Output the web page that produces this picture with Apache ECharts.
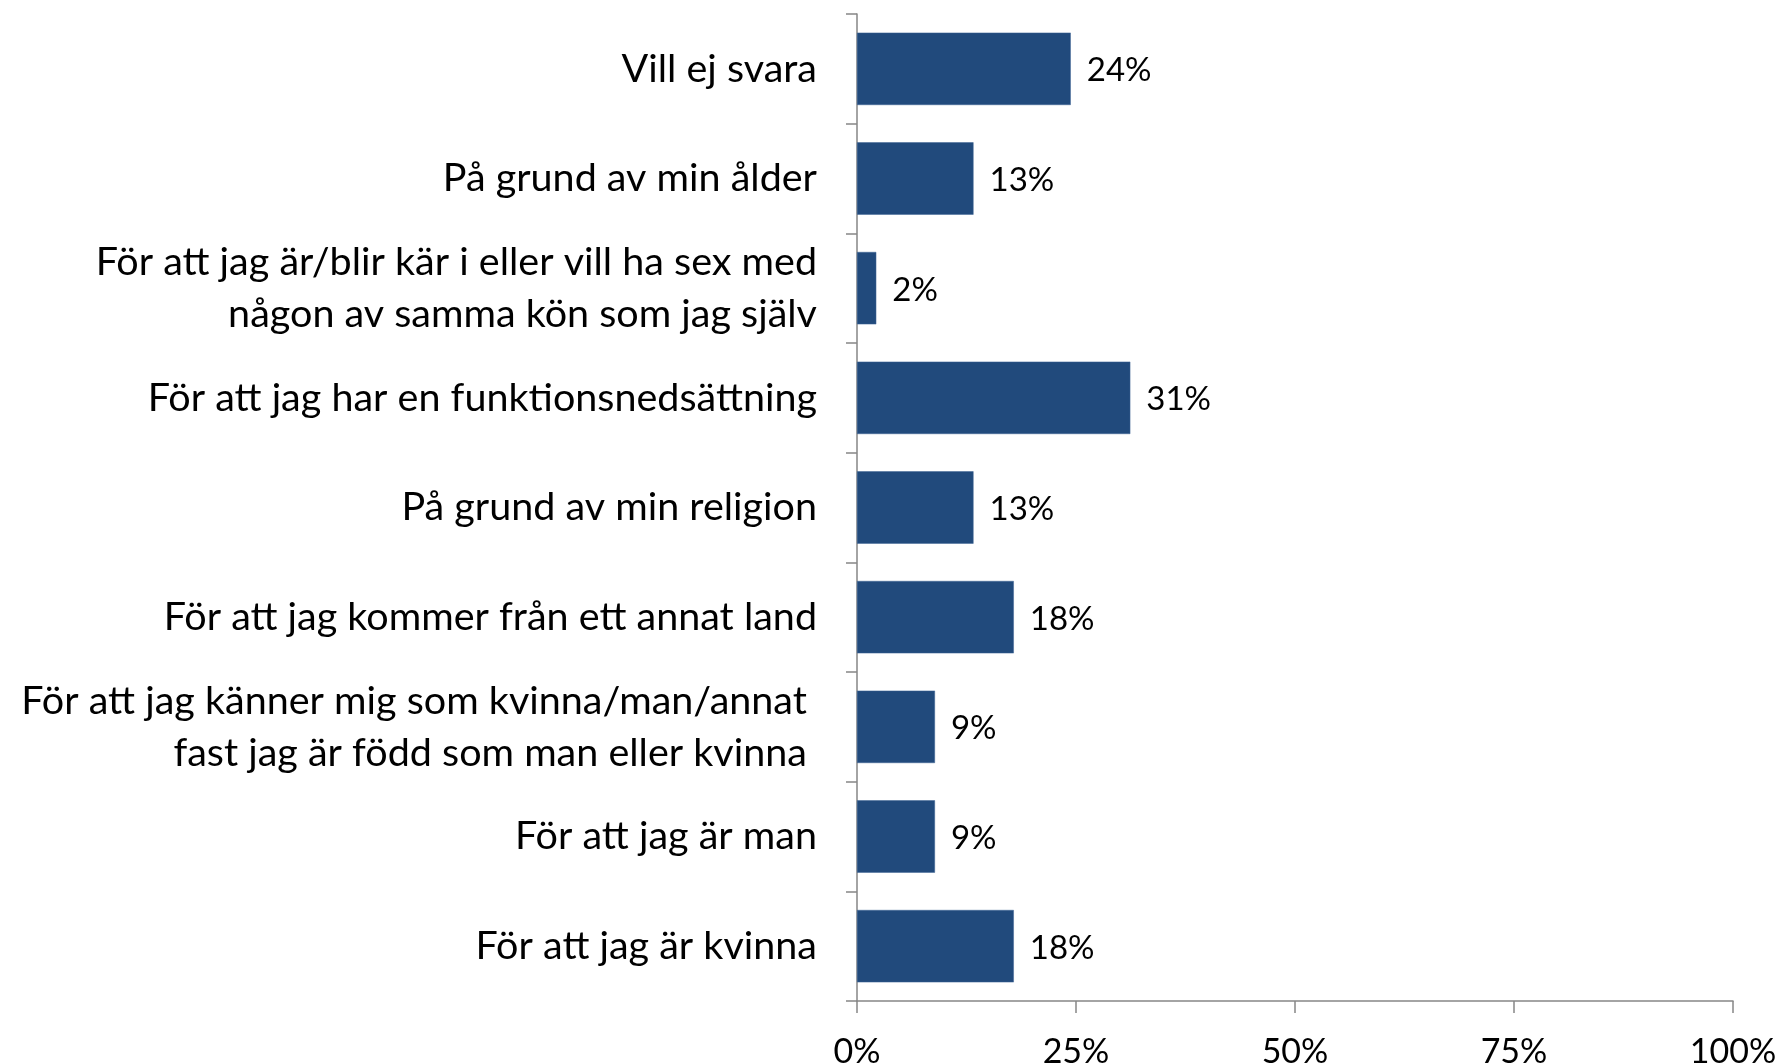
<!DOCTYPE html>
<html>
<head>
<meta charset="utf-8">
<script src="https://cdn.jsdelivr.net/npm/echarts@6/dist/echarts.min.js"></script>
<style>
html,body{margin:0;padding:0;background:#fff;}
#chart{width:1779px;height:1064px;}
</style>
</head>
<body>
<div id="chart"></div>
<script>
// Categories, top to bottom as shown
var categories = [
  "Vill ej svara",
  "På grund av min ålder",
  "För att jag är/blir kär i eller vill ha sex med\nnågon av samma kön som jag själv",
  "För att jag har en funktionsnedsättning",
  "På grund av min religion",
  "För att jag kommer från ett annat land",
  "För att jag känner mig som kvinna/man/annat \nfast jag är född som man eller kvinna ",
  "För att jag är man",
  "För att jag är kvinna"
];
// Percent values (label shows rounded value)
var values = [24.4, 13.3, 2.2, 31.2, 13.3, 17.9, 8.9, 8.9, 17.9];
var xTicks = [0, 25, 50, 75, 100];

var FONT = 'Lato';
var chart = echarts.init(document.getElementById('chart'), null, {renderer: 'canvas'});
chart.setOption({
  animation: false,
  backgroundColor: '#ffffff',
  grid: {left: 857, right: 46, top: 14, bottom: 63, containLabel: false, outerBoundsMode: 'none'},
  xAxis: {
    type: 'value',
    min: 0, max: 100, interval: 25,
    axisLine: {show: true, lineStyle: {color: '#868686', width: 1.5}},
    axisTick: {show: true, length: 12, lineStyle: {color: '#868686', width: 1.5}},
    splitLine: {show: false},
    axisLabel: {
      margin: 34,
      fontFamily: FONT, fontSize: 34, color: '#000',
      formatter: function (v) { return xTicks.indexOf(v) >= 0 ? v + '%' : ''; }
    }
  },
  yAxis: {
    type: 'category',
    inverse: true,
    data: categories,
    axisLine: {show: true, lineStyle: {color: '#868686', width: 1.5}},
    axisTick: {show: true, length: 11, lineStyle: {color: '#868686', width: 1.5}},
    axisLabel: {
      margin: 40,
      fontFamily: FONT, fontSize: 39.5, color: '#000',
      lineHeight: 52, align: 'right'
    }
  },
  series: [{
    type: 'bar',
    data: values,
    barCategoryGap: '34%',
    itemStyle: {color: '#214A7C', borderColor: '#3F6494', borderWidth: 0.5},
    label: {
      show: true, position: 'right', distance: 16, offset: [0, 2],
      fontFamily: FONT, fontSize: 33, color: '#000',
      formatter: function (p) { return Math.round(p.value) + '%'; }
    }
  }]
});
</script>
</body>
</html>
